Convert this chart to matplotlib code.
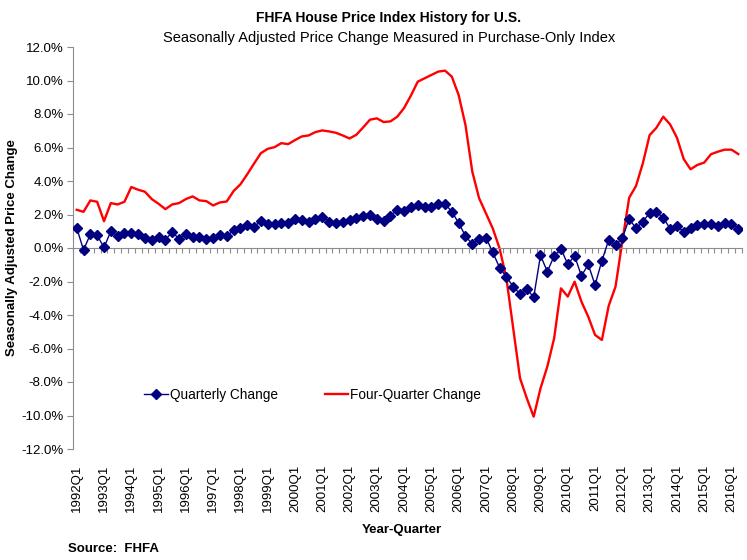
import matplotlib
matplotlib.use("Agg")
import matplotlib.pyplot as plt
from matplotlib.ticker import FixedLocator, FuncFormatter

plt.rcParams['font.family'] = ['Liberation Sans', 'DejaVu Sans']

# ---- data ----
quarters = [f"{y}Q{q}" for y in range(1992, 2017) for q in range(1, 5)][:98]

quarterly_change = [
    1.20, -0.12, 0.82, 0.76, 0.03, 1.00, 0.72, 0.92, 0.90, 0.82,
    0.60, 0.46, 0.64, 0.50, 0.94, 0.56, 0.86, 0.66, 0.66, 0.54,
    0.60, 0.80, 0.70, 1.06, 1.21, 1.40, 1.26, 1.62, 1.46, 1.46,
    1.52, 1.50, 1.76, 1.68, 1.58, 1.76, 1.84, 1.58, 1.52, 1.54,
    1.68, 1.82, 1.92, 1.96, 1.72, 1.60, 1.94, 2.26, 2.20, 2.46,
    2.57, 2.45, 2.45, 2.63, 2.63, 2.17, 1.49, 0.72, 0.22, 0.54,
    0.62, -0.26, -1.17, -1.73, -2.30, -2.75, -2.43, -2.95, -0.44, -1.41,
    -0.48, -0.04, -0.98, -0.46, -1.67, -0.98, -2.21, -0.76, 0.48, 0.18,
    0.58, 1.75, 1.17, 1.57, 2.09, 2.15, 1.81, 1.15, 1.29, 0.98,
    1.17, 1.37, 1.43, 1.43, 1.31, 1.51, 1.41, 1.13,
]

four_quarter_change = [
    2.28, 2.16, 2.84, 2.76, 1.60, 2.68, 2.60, 2.76, 3.64, 3.48,
    3.36, 2.92, 2.64, 2.32, 2.60, 2.68, 2.92, 3.08, 2.84, 2.80,
    2.54, 2.72, 2.78, 3.40, 3.80, 4.40, 5.04, 5.66, 5.92, 6.02,
    6.26, 6.20, 6.44, 6.66, 6.72, 6.92, 7.02, 6.96, 6.88, 6.72,
    6.54, 6.76, 7.20, 7.66, 7.74, 7.52, 7.56, 7.84, 8.36, 9.10,
    9.93, 10.13, 10.33, 10.53, 10.59, 10.23, 9.13, 7.34, 4.56, 2.97,
    2.07, 1.17, -0.02, -1.81, -4.80, -7.78, -8.98, -10.07, -8.38, -7.08,
    -5.39, -2.41, -2.90, -2.01, -3.20, -4.10, -5.19, -5.49, -3.45, -2.31,
    0.40, 3.00, 3.70, 5.05, 6.74, 7.18, 7.84, 7.38, 6.59, 5.31,
    4.70, 4.96, 5.10, 5.60, 5.75, 5.87, 5.87, 5.61,
]

label_step = 4
y_ticks = [-12, -10, -8, -6, -4, -2, 0, 2, 4, 6, 8, 10, 12]

# ---- figure ----
fig = plt.figure(figsize=(7.47, 5.60), dpi=100)
ax = fig.add_axes([73.3 / 747, 1 - 449 / 560, (741.7 - 73.3) / 747, (449 - 47) / 560])

x = list(range(len(quarters)))
ax.plot(x, quarterly_change, color='#000080', lw=1.0, marker='D', markersize=5.4,
        markeredgecolor='#000080', label='Quarterly Change', zorder=3)
ax.plot(x, four_quarter_change, color='#FF0000', lw=1.7, label='Four-Quarter Change', zorder=2)

ax.set_xlim(-0.5, len(quarters) - 0.5)
ax.set_ylim(-12, 12)

spine_col = '#8c8c8c'
for s in ['top', 'right']:
    ax.spines[s].set_visible(False)
ax.spines['left'].set_color(spine_col)
ax.spines['bottom'].set_color(spine_col)
ax.spines['bottom'].set_position(('data', 0))

ax.yaxis.set_major_locator(FixedLocator(y_ticks))
ax.yaxis.set_major_formatter(FuncFormatter(lambda v, p: f"{v:.1f}%"))
ax.tick_params(axis='y', direction='out', length=4, color=spine_col, labelsize=9.5, pad=3)

# quarter boundary ticks on the zero line
ax.xaxis.set_major_locator(FixedLocator([i - 0.5 for i in range(len(quarters) + 1)]))
ax.tick_params(axis='x', direction='out', length=3.5, color=spine_col, labelbottom=False)

# category labels at the bottom
sec = ax.secondary_xaxis(0)
sec.spines['bottom'].set_visible(False)
lab_pos = list(range(0, len(quarters), label_step))
sec.xaxis.set_major_locator(FixedLocator(lab_pos))
sec.set_xticklabels([quarters[i] for i in lab_pos], rotation=90, fontsize=9.5)
sec.tick_params(axis='x', length=0, pad=11)

leg = ax.legend(loc='center left', bbox_to_anchor=(0.088, 0.134), ncol=2, frameon=False,
                fontsize=9.8, handlelength=1.7, columnspacing=3.4, handletextpad=0.2)

fig.text(389 / 747, 1 - 18 / 560, 'FHFA House Price Index History for U.S.', ha='center',
         va='center', fontsize=10, fontweight='bold')
fig.text(389 / 747, 1 - 38 / 560, 'Seasonally Adjusted Price Change Measured in Purchase-Only Index',
         ha='center', va='center', fontsize=10.5)
fig.text(12 / 747, 1 - 248 / 560, 'Seasonally Adjusted Price Change', rotation=90, ha='center',
         va='center', fontsize=9.5, fontweight='bold')
fig.text(402 / 747, 1 - 530 / 560, 'Year-Quarter', ha='center', va='center', fontsize=9.5,
         fontweight='bold')
fig.text(68 / 747, 1 - 549 / 560, 'Source:  FHFA', ha='left', va='center', fontsize=9.5,
         fontweight='bold')

fig.savefig('out.png', dpi=100)
